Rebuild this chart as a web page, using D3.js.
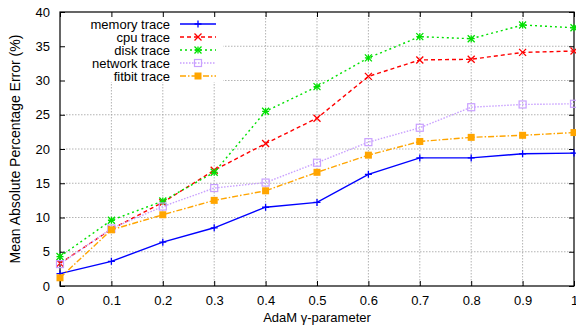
<!DOCTYPE html>
<html>
<head>
<meta charset="utf-8">
<script src="https://cdn.jsdelivr.net/npm/d3@7"></script>
<style>
  body { margin: 0; background: #fff; }
  text { font-family: "Liberation Sans", Arial, sans-serif; fill: #000; }
</style>
</head>
<body>
<div id="wrapper"></div>
<script>
// data
const gammas = [0, 0.1, 0.2, 0.3, 0.4, 0.5, 0.6, 0.7, 0.8, 0.9, 1.0]
const xTicks = [0, 0.1, 0.2, 0.3, 0.4, 0.5, 0.6, 0.7, 0.8, 0.9, 1]
const yTicks = [0, 5, 10, 15, 20, 25, 30, 35, 40]
const memoryTrace = [1.8, 3.6, 6.4, 8.5, 11.5, 12.2, 16.3, 18.7, 18.7, 19.3, 19.4]
const cpuTrace = [3.3, 8.3, 12.2, 16.9, 20.8, 24.5, 30.6, 33.0, 33.1, 34.1, 34.3]
const diskTrace = [4.3, 9.6, 12.4, 16.6, 25.5, 29.1, 33.3, 36.4, 36.1, 38.1, 37.7]
const networkTrace = [3.2, 8.4, 11.6, 14.3, 15.1, 18.0, 21.0, 23.1, 26.1, 26.5, 26.6]
const fitbitTrace = [1.2, 8.2, 10.4, 12.5, 13.9, 16.6, 19.1, 21.1, 21.7, 22.0, 22.4]
const seriesNames = ["memory trace", "cpu trace", "disk trace", "network trace", "fitbit trace"]

const series = [
  { name: seriesNames[0], values: memoryTrace, color: "#0000ff", dash: null, marker: "plus" },
  { name: seriesNames[1], values: cpuTrace, color: "#ff0000", dash: "4,3", marker: "cross" },
  { name: seriesNames[2], values: diskTrace, color: "#00e000", dash: "2,3", marker: "star" },
  { name: seriesNames[3], values: networkTrace, color: "#c9a0ff", dash: "1.5,1.5", marker: "openSquare" },
  { name: seriesNames[4], values: fitbitTrace, color: "#ffa500", dash: "6,2,1.5,2", marker: "square" },
]

// dimensions
let dimensions = {
  width: 576,
  height: 329,
  margin: { top: 12, right: 2, bottom: 43, left: 60 },
}
dimensions.boundedWidth = dimensions.width - dimensions.margin.left - dimensions.margin.right
dimensions.boundedHeight = dimensions.height - dimensions.margin.top - dimensions.margin.bottom

const svg = d3.select("#wrapper")
  .append("svg")
    .attr("width", dimensions.width)
    .attr("height", dimensions.height)

const bounds = svg.append("g")
    .attr("transform", `translate(${dimensions.margin.left},${dimensions.margin.top})`)

// scales
const xScale = d3.scaleLinear()
  .domain([0, 1])
  .range([0, dimensions.boundedWidth])

const yScale = d3.scaleLinear()
  .domain([0, 40])
  .range([dimensions.boundedHeight, 0])

// grid
const grid = bounds.append("g")
    .attr("stroke", "#a0a0a0")
    .attr("stroke-width", 0.8)
    .attr("stroke-dasharray", "1.5,1.5")
grid.selectAll(".vgrid")
  .data(xTicks.slice(1, -1))
  .join("line")
    .attr("x1", d => xScale(d)).attr("x2", d => xScale(d))
    .attr("y1", 0).attr("y2", dimensions.boundedHeight)
grid.selectAll(".hgrid")
  .data(yTicks.slice(1, -1))
  .join("line")
    .attr("x1", 0).attr("x2", dimensions.boundedWidth)
    .attr("y1", d => yScale(d)).attr("y2", d => yScale(d))

// opaque key box
const keyBox = { w: 163, h: 70 }
bounds.append("rect")
    .attr("x", 0).attr("y", 0)
    .attr("width", keyBox.w).attr("height", keyBox.h)
    .attr("fill", "#fff")

// axes (ticks inward on all sides)
const tickLen = 5
const xAxisGen = d3.axisBottom(xScale).tickValues(xTicks).tickSize(-tickLen).tickPadding(10)
  .tickFormat(d3.format("~g"))
const yAxisGen = d3.axisLeft(yScale).tickValues(yTicks).tickSize(-tickLen).tickPadding(10)

const xAxis = bounds.append("g")
    .attr("transform", `translate(0,${dimensions.boundedHeight})`)
    .call(xAxisGen)
const yAxis = bounds.append("g").call(yAxisGen)
const xAxisTop = bounds.append("g")
    .call(d3.axisTop(xScale).tickValues(xTicks).tickSize(-tickLen).tickFormat(""))
const yAxisRight = bounds.append("g")
    .attr("transform", `translate(${dimensions.boundedWidth},0)`)
    .call(d3.axisRight(yScale).tickValues(yTicks).tickSize(-tickLen).tickFormat(""))

;[xAxis, yAxis, xAxisTop, yAxisRight].forEach(a => {
  a.select(".domain").remove()
  a.selectAll(".tick line").attr("stroke", "#000").attr("stroke-width", 1)
  a.selectAll("text").style("font-size", "13px").attr("fill", "#000")
})

bounds.append("rect")
    .attr("width", dimensions.boundedWidth)
    .attr("height", dimensions.boundedHeight)
    .attr("fill", "none")
    .attr("stroke", "#000")
    .attr("stroke-width", 1.2)

// markers
function drawMarker(g, type, color, x, y) {
  const s = 3.5
  if (type === "plus" || type === "star") {
    g.append("path").attr("d", `M${x - s},${y}H${x + s}M${x},${y - s}V${y + s}`)
      .attr("stroke", color).attr("stroke-width", 1.3).attr("fill", "none")
  }
  if (type === "cross" || type === "star") {
    g.append("path").attr("d", `M${x - s},${y - s}L${x + s},${y + s}M${x - s},${y + s}L${x + s},${y - s}`)
      .attr("stroke", color).attr("stroke-width", 1.3).attr("fill", "none")
  }
  if (type === "openSquare") {
    g.append("rect").attr("x", x - s).attr("y", y - s).attr("width", 2 * s).attr("height", 2 * s)
      .attr("stroke", color).attr("stroke-width", 1.2).attr("fill", "none")
  }
  if (type === "square") {
    g.append("rect").attr("x", x - s).attr("y", y - s).attr("width", 2 * s).attr("height", 2 * s)
      .attr("fill", color)
  }
}

// lines
const lineGen = d3.line()
  .x((d, i) => xScale(gammas[i]))
  .y(d => yScale(d))

series.forEach(s => {
  const g = bounds.append("g")
  g.append("path")
    .attr("d", lineGen(s.values))
    .attr("fill", "none")
    .attr("stroke", s.color)
    .attr("stroke-width", 1.4)
    .attr("stroke-dasharray", s.dash)
  s.values.forEach((v, i) => drawMarker(g, s.marker, s.color, xScale(gammas[i]), yScale(v)))
})

// legend
const legend = bounds.append("g")
series.forEach((s, i) => {
  const y = 12 + i * 13
  legend.append("text")
    .attr("x", 110).attr("y", y)
    .attr("dy", "0.35em")
    .attr("text-anchor", "end")
    .style("font-size", "13px")
    .text(s.name)
  legend.append("line")
    .attr("x1", 120).attr("x2", 156)
    .attr("y1", y).attr("y2", y)
    .attr("stroke", s.color)
    .attr("stroke-width", 1.4)
    .attr("stroke-dasharray", s.dash)
  drawMarker(legend, s.marker, s.color, 138, y)
})

// axis labels
svg.append("text")
    .attr("x", dimensions.margin.left + dimensions.boundedWidth / 2)
    .attr("y", 322)
    .attr("text-anchor", "middle")
    .style("font-size", "13px")
    .text("AdaM γ-parameter")

svg.append("text")
    .attr("transform", `translate(20,${dimensions.margin.top + dimensions.boundedHeight / 2}) rotate(-90)`)
    .attr("text-anchor", "middle")
    .style("font-size", "14px")
    .text("Mean Absolute Percentage Error (%)")
</script>
</body>
</html>
